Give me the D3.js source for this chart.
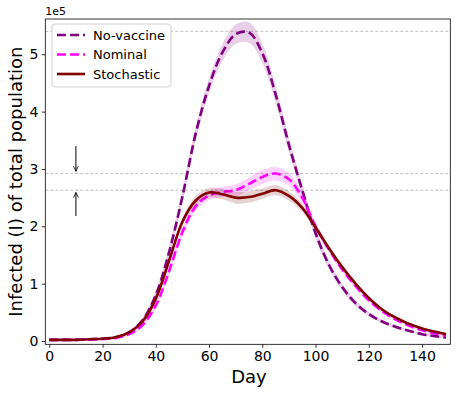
<!DOCTYPE html>
<html>
<head>
<meta charset="utf-8">
<script src="https://cdn.jsdelivr.net/npm/d3@7"></script>
<style>
  body { margin: 0; background: #fff; }
  svg { font-family: "DejaVu Sans", sans-serif; }
</style>
</head>
<body>
<svg id="chart" width="456" height="394"></svg>
<script>
// values are in units of 1e5 people
const days = [0, 5, 10, 15, 20, 25, 30, 35, 40, 45, 50, 55, 60, 65, 70, 75, 80, 85, 90, 95,
  100, 105, 110, 115, 120, 125, 130, 135, 140, 145, 149];

const noVaccine = [0.02, 0.02, 0.02, 0.03, 0.04, 0.07, 0.15, 0.36, 0.8, 1.55, 2.52, 3.62, 4.45, 5.03,
  5.35, 5.38, 5.02, 4.3, 3.42, 2.63, 1.88, 1.33, 0.94, 0.66, 0.47, 0.34, 0.25, 0.18, 0.12, 0.085, 0.06];
const noVaccineSpread = [0.01, 0.01, 0.01, 0.01, 0.01, 0.015, 0.03, 0.05, 0.08, 0.1, 0.11, 0.12, 0.13, 0.15,
  0.17, 0.18, 0.17, 0.15, 0.13, 0.11, 0.09, 0.08, 0.06, 0.05, 0.04, 0.03, 0.03, 0.02, 0.02, 0.02, 0.02];

const nominal = [0.02, 0.02, 0.02, 0.025, 0.035, 0.055, 0.12, 0.28, 0.62, 1.22, 1.9, 2.35, 2.54, 2.6,
  2.63, 2.74, 2.86, 2.92, 2.82, 2.5, 2.0, 1.6, 1.25, 0.96, 0.71, 0.52, 0.38, 0.27, 0.19, 0.13, 0.1];
const nominalSpread = [0.01, 0.01, 0.01, 0.01, 0.01, 0.015, 0.02, 0.04, 0.06, 0.07, 0.08, 0.08, 0.08, 0.09,
  0.1, 0.11, 0.12, 0.12, 0.11, 0.09, 0.07, 0.06, 0.05, 0.04, 0.03, 0.03, 0.02, 0.02, 0.02, 0.02, 0.02];

const stochastic = [0.02, 0.02, 0.02, 0.03, 0.04, 0.065, 0.15, 0.34, 0.74, 1.4, 2.08, 2.45, 2.59, 2.56,
  2.5, 2.51, 2.57, 2.63, 2.53, 2.32, 1.98, 1.62, 1.29, 1.0, 0.75, 0.55, 0.41, 0.3, 0.22, 0.16, 0.12];
const stochasticSpread = [0.01, 0.01, 0.01, 0.01, 0.01, 0.015, 0.02, 0.04, 0.06, 0.07, 0.07, 0.08, 0.08, 0.09,
  0.1, 0.1, 0.09, 0.09, 0.08, 0.07, 0.06, 0.05, 0.05, 0.04, 0.03, 0.03, 0.02, 0.02, 0.02, 0.02, 0.02];

const peakLines = [5.40, 2.92, 2.63];
const xTicks = [0, 20, 40, 60, 80, 100, 120, 140];
const yTicks = [0, 1, 2, 3, 4, 5];

const series = [
  { name: 'No-vaccine', values: noVaccine, spread: noVaccineSpread, color: '#800080', dash: '9,4' },
  { name: 'Nominal', values: nominal, spread: nominalSpread, color: '#ff00ff', dash: '9,4' },
  { name: 'Stochastic', values: stochastic, spread: stochasticSpread, color: '#800000', dash: null }
];

const svg = d3.select('#chart');
const margin = { top: 19, right: 5.7, bottom: 49.7, left: 45.3 };
const width = +svg.attr('width');
const height = +svg.attr('height');

const x = d3.scaleLinear()
  .domain([-1.5, 150.6])
  .range([margin.left, width - margin.right]);

const y = d3.scaleLinear()
  .domain([-0.057, 5.615])
  .range([height - margin.bottom, margin.top]);

const defs = svg.append('defs');
defs.append('clipPath').attr('id', 'plot-clip')
  .append('rect')
  .attr('x', margin.left).attr('y', margin.top)
  .attr('width', width - margin.left - margin.right)
  .attr('height', height - margin.top - margin.bottom);

const plot = svg.append('g').attr('clip-path', 'url(#plot-clip)');

// dashed reference lines at the peaks
plot.selectAll('.peak')
  .data(peakLines)
  .join('line')
  .attr('x1', margin.left).attr('x2', width - margin.right)
  .attr('y1', d => y(d)).attr('y2', d => y(d))
  .attr('stroke', '#b0b0b0')
  .attr('stroke-width', 0.8)
  .attr('stroke-dasharray', '3,2');

series.forEach(s => {
  const area = d3.area()
    .x((d, i) => x(days[i]))
    .y0((d, i) => y(d - s.spread[i]))
    .y1((d, i) => y(d + s.spread[i]))
    .curve(d3.curveCatmullRom);

  const line = d3.line()
    .x((d, i) => x(days[i]))
    .y(d => y(d))
    .curve(d3.curveCatmullRom);

  plot.append('path')
    .datum(s.values)
    .attr('fill', s.color)
    .attr('fill-opacity', 0.18)
    .attr('d', area);

  plot.append('path')
    .datum(s.values)
    .attr('fill', 'none')
    .attr('stroke', s.color)
    .attr('stroke-width', 2.6)
    .attr('stroke-dasharray', s.dash)
    .attr('d', line);
});

// arrows pointing at the two lower reference lines
const arrows = [
  { day: 10, from: 3.40, to: 2.96 },
  { day: 10, from: 2.18, to: 2.59 }
];
defs.append('marker')
  .attr('id', 'head')
  .attr('viewBox', '0 0 10 10')
  .attr('refX', 9.5).attr('refY', 5)
  .attr('markerWidth', 6).attr('markerHeight', 6)
  .attr('orient', 'auto')
  .append('path')
  .attr('d', 'M1,1 L9.5,5 L1,9')
  .attr('fill', 'none')
  .attr('stroke', '#000')
  .attr('stroke-width', 1.3);

svg.selectAll('.arrow')
  .data(arrows)
  .join('line')
  .attr('x1', d => x(d.day)).attr('x2', d => x(d.day))
  .attr('y1', d => y(d.from)).attr('y2', d => y(d.to))
  .attr('stroke', '#000')
  .attr('stroke-width', 1)
  .attr('marker-end', 'url(#head)');

// axes
const xAxis = svg.append('g')
  .attr('transform', `translate(0,${height - margin.bottom})`)
  .call(d3.axisBottom(x).tickValues(xTicks).tickFormat(d3.format('d')).tickSize(3.5).tickPadding(3.5));
const yAxis = svg.append('g')
  .attr('transform', `translate(${margin.left},0)`)
  .call(d3.axisLeft(y).tickValues(yTicks).tickFormat(d3.format('d')).tickSize(3.5).tickPadding(3.5));

[xAxis, yAxis].forEach(a => {
  a.select('.domain').remove();
  a.selectAll('text').attr('font-size', 14).attr('fill', '#000')
    .attr('font-family', '"DejaVu Sans", sans-serif');
  a.selectAll('line').attr('stroke', '#000').attr('stroke-width', 0.8);
});

svg.append('rect')
  .attr('x', margin.left).attr('y', margin.top)
  .attr('width', width - margin.left - margin.right)
  .attr('height', height - margin.top - margin.bottom)
  .attr('fill', 'none')
  .attr('stroke', '#000')
  .attr('stroke-width', 0.8);

svg.append('text')
  .attr('x', margin.left)
  .attr('y', 15)
  .attr('font-size', 11)
  .text('1e5');

svg.append('text')
  .attr('x', x(75))
  .attr('y', 383)
  .attr('text-anchor', 'middle')
  .attr('font-size', 18)
  .text('Day');

svg.append('text')
  .attr('transform', `translate(16,${(margin.top + height - margin.bottom) / 2}) rotate(-90)`)
  .attr('text-anchor', 'middle')
  .attr('dy', '0.35em')
  .attr('font-size', 18)
  .text('Infected (I) of total population');

// legend
const legend = svg.append('g').attr('transform', 'translate(52,24)');
legend.append('rect')
  .attr('width', 119).attr('height', 63)
  .attr('rx', 3)
  .attr('fill', '#fff').attr('fill-opacity', 0.8)
  .attr('stroke', '#d0d0d0');

const item = legend.selectAll('.item')
  .data(series)
  .join('g')
  .attr('transform', (d, i) => `translate(0,${11 + i * 19.5})`);

item.append('line')
  .attr('x1', 5).attr('x2', 33)
  .attr('stroke', d => d.color)
  .attr('stroke-width', 2.6)
  .attr('stroke-dasharray', d => d.dash);

item.append('text')
  .attr('x', 41)
  .attr('dy', '0.35em')
  .attr('font-size', 13)
  .text(d => d.name);
</script>
</body>
</html>
